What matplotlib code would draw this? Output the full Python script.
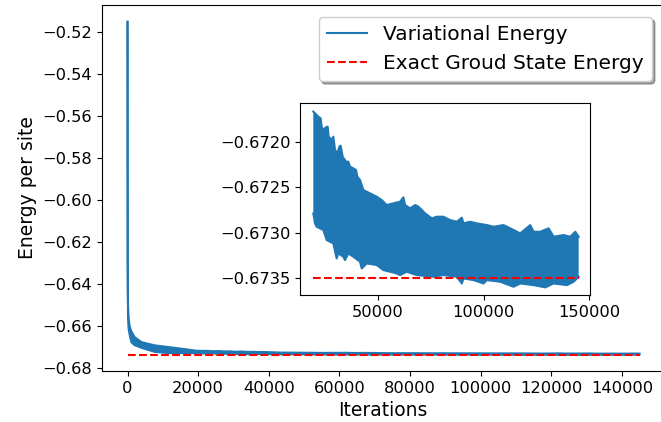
import matplotlib
matplotlib.use("Agg")
import matplotlib.pyplot as plt

# early drop of the variational energy (upper / lower edge of the noisy curve)
early_iter = [0, 60, 150, 300, 600, 1100, 2000, 4000, 7700, 12000, 15300]
early_upper = [-0.5150, -0.6300, -0.6500, -0.6560, -0.6600, -0.6625, -0.6652, -0.6676,
               -0.6691, -0.6700, -0.6707]
early_lower = [-0.5150, -0.6400, -0.6560, -0.6610, -0.6640, -0.6676, -0.6690, -0.6703,
               -0.6722, -0.6728, -0.6728]

# later part: upper edge of the noise band
up_iter = [19556, 20345, 21922, 23025, 23499, 24287, 25549, 26337, 26810, 28230,
           29018, 29807, 30910, 31857, 32487, 33434, 35011, 36115, 36903, 38480,
           39742, 40372, 41634, 43211, 46365, 49519, 51885, 54250, 57404, 60558,
           62135, 62924, 65289, 67655, 69232, 72386, 75540, 77905, 81059, 84213,
           87367, 89733, 90521, 93675, 96829, 101560, 104714, 109445, 114176, 117330,
           122061, 123638, 126792, 130735, 133100, 137831, 140985, 143351, 144928]
up_val = [-0.671670, -0.671688, -0.671725, -0.671743, -0.671835, -0.671872, -0.671842,
          -0.671835, -0.671945, -0.671981, -0.671945, -0.672091, -0.672128, -0.672055,
          -0.672044, -0.672165, -0.672220, -0.672220, -0.672274, -0.672293, -0.672311,
          -0.672384, -0.672421, -0.672531, -0.672568, -0.672604, -0.672641, -0.672696,
          -0.672677, -0.672659, -0.672611, -0.672696, -0.672732, -0.672696, -0.672714,
          -0.672787, -0.672842, -0.672824, -0.672824, -0.672861, -0.672879, -0.672835,
          -0.672897, -0.672879, -0.672897, -0.672916, -0.672934, -0.672916, -0.672970,
          -0.673007, -0.672916, -0.672989, -0.672989, -0.672952, -0.673044, -0.673025,
          -0.673044, -0.672989, -0.673044]

# later part: lower edge of the noise band
low_iter = [19556, 20345, 21133, 22710, 24287, 25864, 27441, 29018, 30595, 31384,
            33749, 34538, 36115, 38480, 41634, 42423, 44788, 49519, 52673, 55827,
            58981, 60558, 63712, 68443, 76328, 81059, 87367, 89733, 90521, 95252,
            99983, 101560, 107868, 114176, 117330, 123638, 129158, 133100, 139408,
            142562, 144928]
low_val = [-0.672787, -0.672897, -0.672934, -0.672952, -0.672970, -0.673080, -0.673099,
           -0.673117, -0.673282, -0.673227, -0.673264, -0.673300, -0.673227, -0.673264,
           -0.673318, -0.673392, -0.673337, -0.673355, -0.673410, -0.673428, -0.673447,
           -0.673465, -0.673428, -0.673465, -0.673483, -0.673465, -0.673483, -0.673557,
           -0.673502, -0.673520, -0.673557, -0.673520, -0.673538, -0.673593, -0.673557,
           -0.673575, -0.673600, -0.673557, -0.673575, -0.673538, -0.673483]

exact_energy = -0.6735

blue = '#1f77b4'

fig = plt.figure(figsize=(6.61, 4.22), dpi=100)
ax = fig.add_axes([0.1543, 0.1209, 0.8495, 0.8673])

main_up_x = early_iter + up_iter
main_up_y = early_upper + up_val
main_low_x = early_iter + low_iter
main_low_y = early_lower + low_val
ax.fill(main_up_x + main_low_x[::-1], main_up_y + main_low_y[::-1], color=blue, lw=0)
ax.plot(main_up_x, main_up_y, color=blue, lw=1.5, label='Variational Energy')
ax.plot(main_low_x, main_low_y, color=blue, lw=1.5)
ax.plot([0, up_iter[-1]], [exact_energy, exact_energy], 'r--', lw=1.5,
        label='Exact Groud State Energy')

ax.set_xlim(-7225, 151725)
ax.set_ylim(-0.6813, -0.507)
ax.set_xticks(range(0, 140001, 20000))
ax.set_yticks([-0.52, -0.54, -0.56, -0.58, -0.60, -0.62, -0.64, -0.66, -0.68])
ax.tick_params(labelsize=11.7)
ax.set_xlabel('Iterations', fontsize=13.5)
ax.set_ylabel('Energy per site', fontsize=13.5)
ax.legend(loc='upper right', fontsize=14.5, shadow=True,
          bbox_to_anchor=(652 / 661, 405 / 422), bbox_transform=fig.transFigure,
          borderaxespad=0)

# zoomed inset
axin = fig.add_axes([0.4546, 0.2998, 0.4380, 0.4562])
axin.fill(up_iter + low_iter[::-1], up_val + low_val[::-1], color=blue, lw=0)
axin.plot(up_iter, up_val, color=blue, lw=1.5)
axin.plot(low_iter, low_val, color=blue, lw=1.5)
axin.plot([up_iter[0], up_iter[-1]], [exact_energy, exact_energy], 'r--', lw=1.5)
axin.set_xlim(13500, 150300)
axin.set_ylim(-0.673689, -0.671575)
axin.set_xticks([50000, 100000, 150000])
axin.set_yticks([-0.6720, -0.6725, -0.6730, -0.6735])
axin.ticklabel_format(useOffset=False, style='plain')
axin.tick_params(labelsize=11.7)

fig.savefig('out.png', dpi=100)
